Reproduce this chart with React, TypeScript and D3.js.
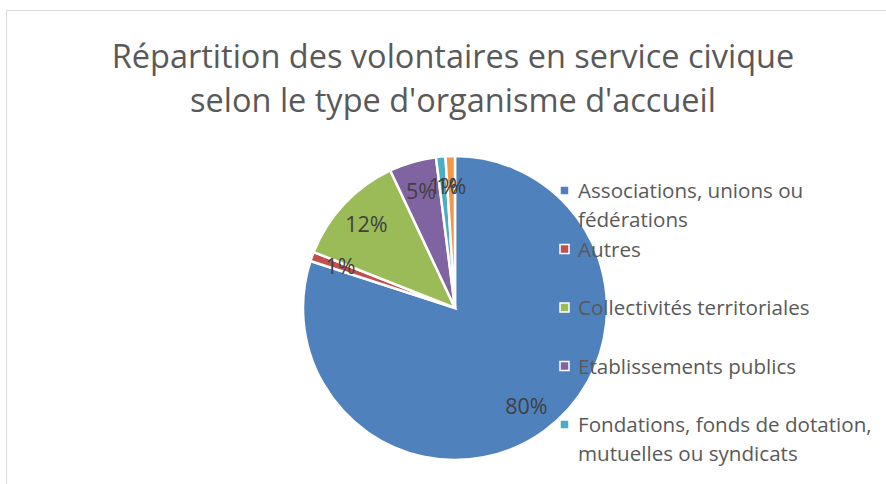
import React from 'react';
import * as d3 from 'd3';

// Organisme d'accueil, in the order Excel draws the slices (clockwise from 12 o'clock)
const categories = [
  'Associations, unions ou fédérations',
  'Autres',
  'Collectivités territoriales',
  'Etablissements publics',
  'Fondations, fonds de dotation, mutuelles ou syndicats',
  "Services de l'Etat",
];
const shares = [80, 1, 12, 5, 1, 1];
const colors = ['#4F81BD', '#C0504D', '#9BBB59', '#8064A2', '#4BACC6', '#F79646'];

// legend lines as they wrap in the original
const legendLines = [
  ['Associations, unions ou', 'fédérations'],
  ['Autres'],
  ['Collectivités territoriales'],
  ['Etablissements publics'],
  ['Fondations, fonds de dotation,', 'mutuelles ou syndicats'],
];

const titleLines = [
  'Répartition des volontaires en service civique',
  "selon le type d'organisme d'accueil",
];

const W = 886;
const H = 484;
const FONT = "'Open Sans', 'Noto Sans', sans-serif";

export default function App() {
  const cx = 455;
  const cy = 308;
  const radius = 152;

  const pie = d3.pie<number>().sort(null).value((d) => d);
  const arcs = pie(shares);
  const arc = d3.arc<d3.PieArcDatum<number>>().innerRadius(0).outerRadius(radius);
  const labelArc = d3
    .arc<d3.PieArcDatum<number>>()
    .innerRadius(radius * 0.8)
    .outerRadius(radius * 0.8);

  const color = d3.scaleOrdinal<string, string>().domain(categories).range(colors);
  const fmt = d3.format('.0%');
  const total = d3.sum(shares);

  // only the first five legend entries fit in the chart area
  const legendY = d3
    .scaleBand<number>()
    .domain(d3.range(legendLines.length))
    .range([170, 170 + legendLines.length * 58.5]);

  return (
    <svg
      width={W}
      height={H}
      style={{ position: 'absolute', left: 0, top: 0, background: '#fff' }}
      fontFamily={FONT}
    >
      <rect x={6.5} y={10.5} width={W + 10} height={H + 10} fill="#fff" stroke="#d9d9d9" strokeWidth={1} />

      {titleLines.map((t, i) => (
        <text key={t} x={453} y={68 + i * 44} textAnchor="middle" fontSize={32.5} fill="#595959">
          {t}
        </text>
      ))}

      <g transform={`translate(${cx},${cy})`}>
        {arcs.map((a, i) => (
          <path key={categories[i]} d={arc(a) || ''} fill={color(categories[i])} stroke="#fff" strokeWidth={2.5} />
        ))}
        {arcs.map((a, i) => {
          const [x, y] = labelArc.centroid(a);
          return (
            <text key={'l' + i} x={x} y={y} dy="0.35em" textAnchor="middle" fontSize={21.5} fill="#404040">
              {fmt(a.data / total)}
            </text>
          );
        })}
      </g>

      {legendLines.map((lines, i) => {
        const y0 = (legendY(i) || 0) + 28;
        return (
          <g key={'leg' + i}>
            <rect x={560} y={y0 - 12} width={9} height={9} fill={colors[i]} stroke="#fff" strokeWidth={1.5} />
            {lines.map((ln, j) => (
              <text key={ln} x={578} y={y0 + j * 29} fontSize={20.6} fill="#595959">
                {ln}
              </text>
            ))}
          </g>
        );
      })}
    </svg>
  );
}
